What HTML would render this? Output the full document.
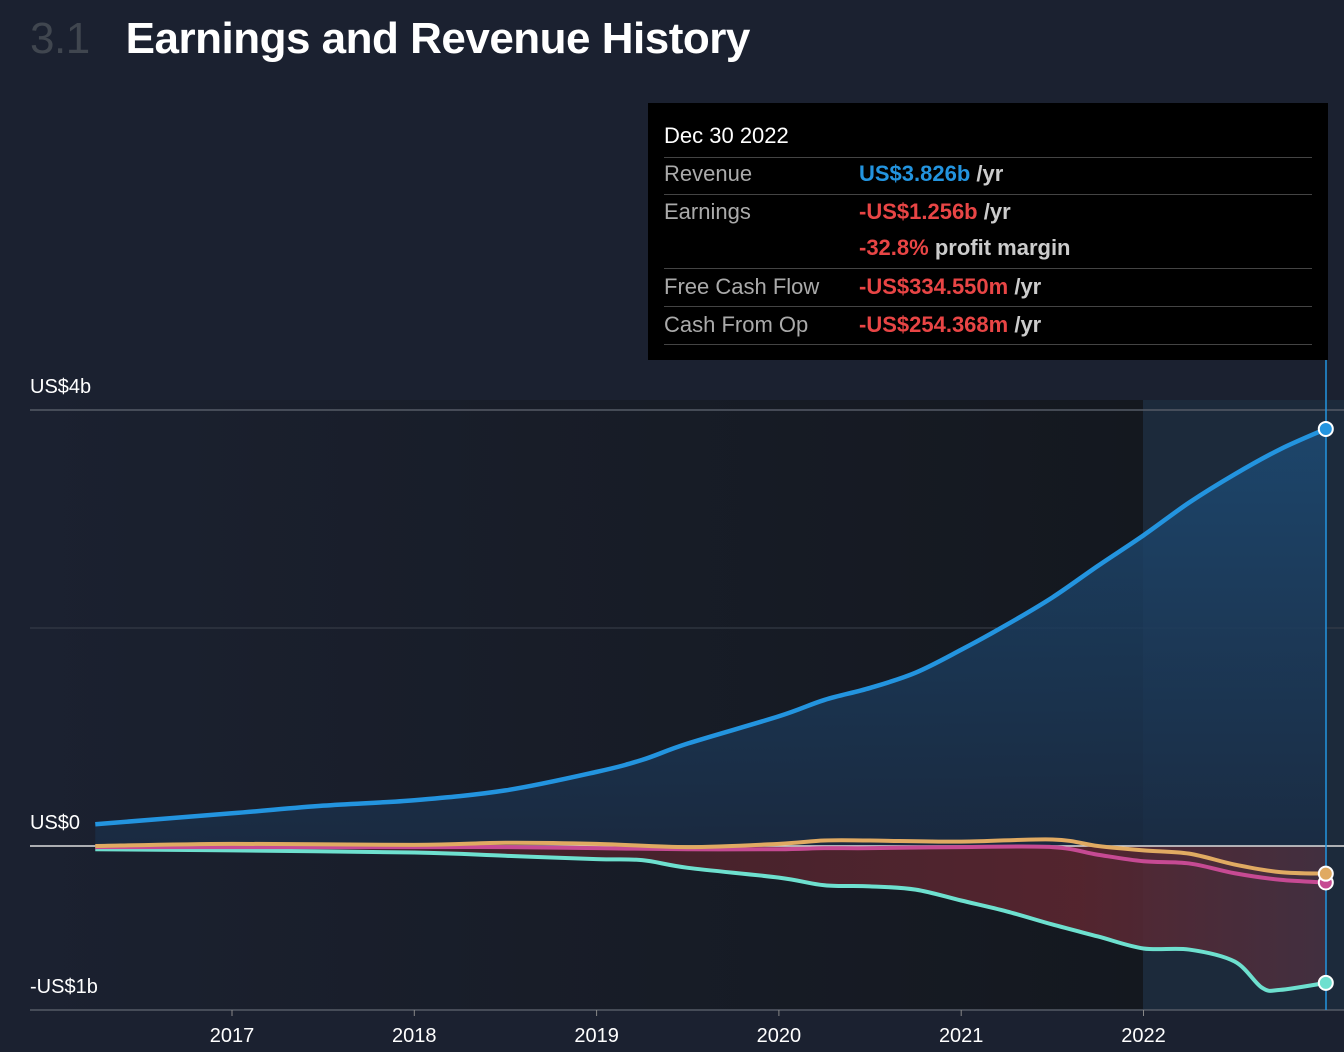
<!DOCTYPE html>
<html><head><meta charset="utf-8"><style>
html,body{margin:0;padding:0;background:#1b2130;width:1344px;height:1052px;overflow:hidden;font-family:"Liberation Sans",Arial,sans-serif}
#t{position:absolute;left:30px;top:14px;font-size:44px;font-weight:bold;color:#fff;letter-spacing:-0.5px}
#t span{color:#40464f;margin-right:36px;font-weight:normal}
#tip{position:absolute;left:648px;top:103px;width:680px;height:257px;background:#000;color:#fff;font-size:22px}
.row{position:absolute;left:16px;right:16px;border-bottom:1px solid #444}
.l{position:absolute;left:0;color:#aaa;top:2px}.v{position:absolute;left:195px;color:#ccc;top:2px;font-weight:bold}
.b{color:#2394df}.r{color:#e84545}
</style></head><body>
<div id="t"><span>3.1</span>Earnings and Revenue History</div>
<svg id="c" width="1344" height="1052" style="position:absolute;left:0;top:0"></svg>
<div id="tip">
<div class="row" style="top:18px;height:36px"><span class="l" style="color:#fff">Dec 30 2022</span></div>
<div class="row" style="top:56px;height:35px"><span class="l">Revenue</span><span class="v"><span class="b">US$3.826b</span> /yr</span></div>
<div class="row" style="top:94px;height:71px"><span class="l">Earnings</span><span class="v"><span class="r">-US$1.256b</span> /yr</span><span class="v" style="top:38px"><span class="r">-32.8%</span> profit margin</span></div>
<div class="row" style="top:169px;height:34px"><span class="l">Free Cash Flow</span><span class="v"><span class="r">-US$334.550m</span> /yr</span></div>
<div class="row" style="top:207px;height:34px"><span class="l">Cash From Op</span><span class="v"><span class="r">-US$254.368m</span> /yr</span></div>
</div>
<script>
const revT=[2016.25,2017,2017.5,2018,2018.5,2019,2019.25,2019.5,2020,2020.25,2020.5,2020.75,2021,2021.25,2021.5,2021.75,2022,2022.25,2022.5,2022.75,2023];
const revenue=[0.20,0.30,0.37,0.42,0.51,0.68,0.79,0.94,1.19,1.34,1.45,1.59,1.80,2.03,2.28,2.57,2.85,3.15,3.41,3.64,3.826];
const earnT=[2016.25,2017,2018,2018.5,2019,2019.25,2019.5,2020,2020.25,2020.5,2020.75,2021,2021.25,2021.5,2021.75,2022,2022.25,2022.5,2022.65,2022.75,2023];
const earnings=[-0.03,-0.04,-0.06,-0.09,-0.12,-0.13,-0.20,-0.29,-0.36,-0.37,-0.40,-0.50,-0.60,-0.72,-0.83,-0.94,-0.95,-1.06,-1.30,-1.32,-1.256];
const cfT=[2016.25,2017,2018,2018.5,2019,2019.5,2020,2020.25,2020.5,2021,2021.5,2021.75,2022,2022.25,2022.5,2022.75,2023];
const fcf=[-0.01,-0.01,-0.01,-0.01,-0.02,-0.03,-0.03,-0.02,-0.02,-0.01,-0.01,-0.08,-0.14,-0.16,-0.25,-0.31,-0.335];
const cfo=[0.0,0.02,0.01,0.03,0.02,-0.01,0.02,0.05,0.05,0.04,0.06,0.0,-0.04,-0.07,-0.17,-0.24,-0.254];
const yTicks=[4,0,-1];const yLabels=["US$4b","US$0","-US$1b"];
const xTicks=[2017,2018,2019,2020,2021,2022];
const X=t=>232+(t-2017)*182.3, Y=v=>846-v*109;
const svg=document.getElementById('c');const NS='http://www.w3.org/2000/svg';
function mk(tag,at,name){const e=document.createElementNS(NS,tag);for(const k in at)e.setAttribute(k,at[k]);


svg.appendChild(e);return e;}
function path(ts,vs){const p=ts.map((t,i)=>[X(t),Y(vs[i])]);let d='M'+p[0];for(let i=0;i<p.length-1;i++){const a=p[i-1]||p[i],b=p[i],c=p[i+1],e=p[i+2]||c;
d+=' C'+(b[0]+(c[0]-a[0])/6)+','+(b[1]+(c[1]-a[1])/6)+' '+(c[0]-(e[0]-b[0])/6)+','+(c[1]-(e[1]-b[1])/6)+' '+c;}return d;}
const defs=mk('defs',{},'defs');defs.innerHTML='<linearGradient id="pg" x1="0" y1="0" x2="1" y2="0"><stop offset="0" stop-color="#1b2130"/><stop offset="1" stop-color="#14181f"/></linearGradient><linearGradient id="bg" x1="0" y1="0" x2="0" y2="1"><stop offset="0" stop-color="#1d4a73"/><stop offset="1" stop-color="#1a2c44"/></linearGradient><linearGradient id="rg" x1="0" y1="0" x2="1" y2="0"><stop offset="0" stop-color="#3a1f28"/><stop offset="0.8" stop-color="#5a2630"/><stop offset="1" stop-color="#463040"/></linearGradient>';
mk('rect',{x:30,y:400,width:1113,height:610,fill:'url(#pg)'},'plot-background');
mk('rect',{x:1143,y:400,width:201,height:610,fill:'#1c2a3b'},'highlight-region');
mk('line',{x1:30,x2:1344,y1:Y(2),y2:Y(2),stroke:'#3a404b'},'gridline');
mk('path',{d:path(revT,revenue)+` L${X(2023)},${Y(0)} L${X(2016.25)},${Y(0)} Z`,fill:'url(#bg)',opacity:0.85},'revenue-area');
mk('path',{d:path(earnT,earnings)+` L${X(2023)},${Y(0)} L${X(2016.25)},${Y(0)} Z`,fill:'url(#rg)',opacity:0.9},'earnings-area');
yTicks.forEach((v,i)=>{if(v!==-1)mk('line',{x1:30,x2:1344,y1:Y(v),y2:Y(v),stroke:v===0?'#ddd':'#555b66','stroke-width':1.5},'y-gridline');
const t=mk('text',{x:30,y:v===-1?993:Y(v)-17,fill:'#fff','font-size':20},'y-tick-label');t.textContent=yLabels[i];});
mk('line',{x1:30,x2:1344,y1:1010,y2:1010,stroke:'#555b66','stroke-width':1.5},'x-axis');
xTicks.forEach(y=>{mk('line',{x1:X(y),x2:X(y),y1:1010,y2:1016,stroke:'#888'},'x-tick');const t=mk('text',{x:X(y),y:1042,fill:'#fff','font-size':20,'text-anchor':'middle'},'x-tick-label');t.textContent=y;});
mk('line',{x1:1326,x2:1326,y1:360,y2:1010,stroke:'#2394df','stroke-width':1.5},'cursor-line');
mk('path',{d:path(earnT,earnings),fill:'none',stroke:'#6ee0cf','stroke-width':4},'earnings-line');
mk('path',{d:path(cfT,fcf),fill:'none',stroke:'#c64a93','stroke-width':4},'fcf-line');
mk('path',{d:path(cfT,cfo),fill:'none',stroke:'#e0aa62','stroke-width':4},'cfo-line');
mk('path',{d:path(revT,revenue),fill:'none',stroke:'#2394df','stroke-width':4.5},'revenue-line');
[[revenue,'#2394df','revenue-dot'],[fcf,'#c64a93','fcf-dot'],[cfo,'#e0aa62','cfo-dot'],[earnings,'#6ee0cf','earnings-dot']].forEach(([a,c,n])=>mk('circle',{cx:X(2023),cy:Y(a[a.length-1]),r:7,fill:c,stroke:'#fff','stroke-width':2},n));
</script>
</body></html>
